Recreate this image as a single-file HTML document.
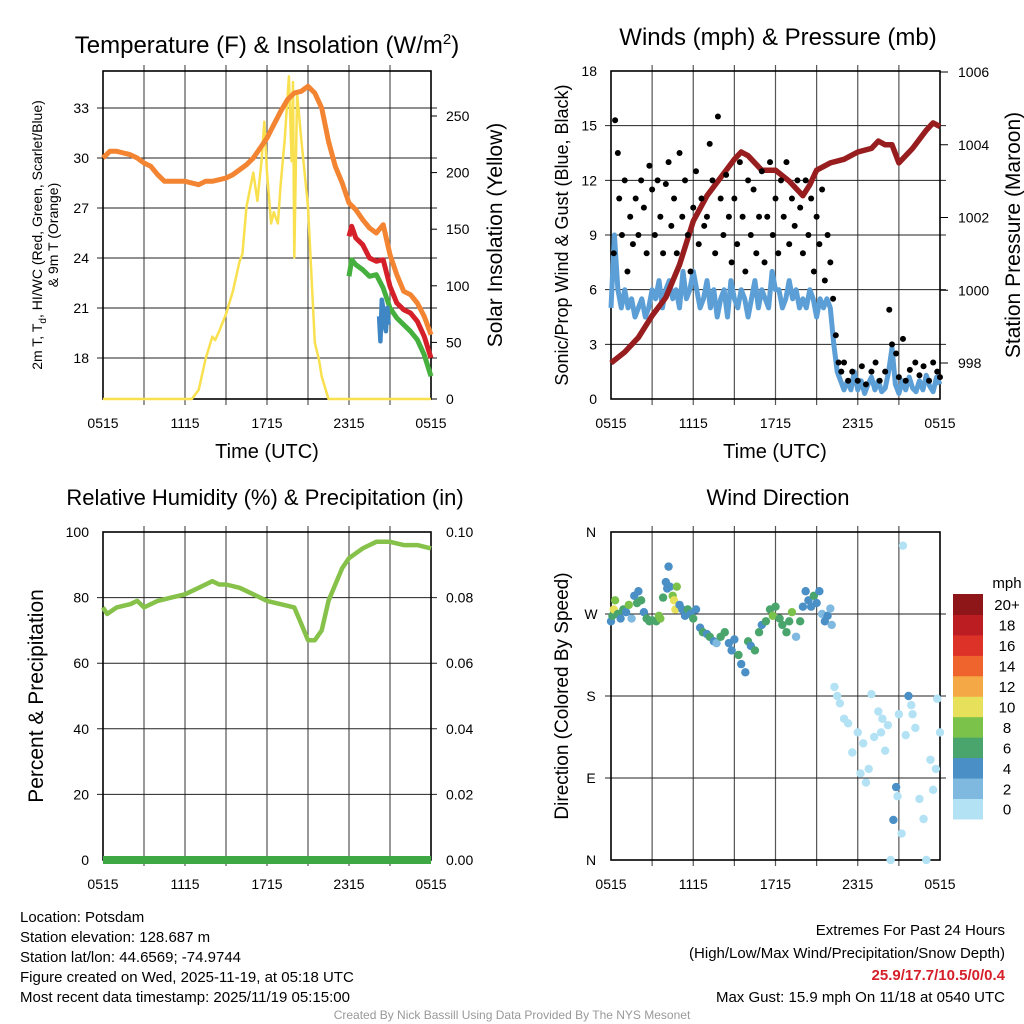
<!DOCTYPE html>
<html><head><meta charset="utf-8"><style>
body{margin:0;background:#fff;}
svg{display:block;font-family:"Liberation Sans",Arial,sans-serif;}
</style></head><body>
<svg id="s" width="1024" height="1024" viewBox="0 0 1024 1024" xmlns="http://www.w3.org/2000/svg">
<g id="root"></g>
</svg>
<script>
// ---------- DATA ----------
const tempT = [0,0.5,1,1.5,2,2.5,3,3.5,4,4.5,5,5.5,6,6.5,7,7.5,8,8.5,9,9.5,10,10.5,11,11.5,12,12.5,13,13.5,14,14.5,15,15.5,16,16.5,17,17.5,18,18.5,19,19.5,20,20.5,21,21.5,22,22.5,23,23.5,24];
const orangeT = [30.0,30.4,30.4,30.3,30.2,30.0,29.7,29.5,29.0,28.6,28.6,28.6,28.6,28.5,28.4,28.6,28.6,28.7,28.8,29.0,29.3,29.6,30.0,30.6,31.2,32.0,32.8,33.5,33.9,34.0,34.3,33.9,33.0,31.0,29.5,28.5,27.3,26.9,26.3,25.8,25.5,26.0,24.2,23.0,22.0,21.8,21.3,20.5,19.4];
const redT_t = [18,18.2,18.5,19,19.5,20,20.5,21,21.5,22,22.5,23,23.5,24];
const redT = [25.3,25.9,25.2,24.8,24.0,23.8,23.9,22.3,21.3,20.9,20.7,20.2,19.3,18.0];
const greenT = [22.9,23.9,23.6,23.3,22.9,23.0,22.2,21.0,20.4,20.0,19.6,19.1,18.2,16.9];
const blueT_t = [20.2,20.3,20.4,20.5,20.6,20.7,20.8,20.9];
const blueT = [20.5,19.0,21.5,21.0,20.0,19.6,21.0,20.0];
const solT_t = [0,6.5,7,7.5,8,8.2,8.5,9,9.5,10,10.2,10.5,11,11.3,11.6,11.8,12,12.3,12.5,12.8,13,13.3,13.6,13.8,13.9,14.0,14.2,14.5,15,15.5,15.8,16,16.5,24];
const solar = [0,0,8,35,55,52,60,75,95,122,128,170,200,175,210,245,200,155,165,155,190,230,285,210,280,125,270,230,170,50,35,20,0,0];

const presT = [0,1,2,3,4,5,6,7,8,9,9.5,10,11,12,13,14,14.5,15,16,17,18,19,19.5,20,20.5,21,22,23,23.5,24];
const pressure = [998.0,998.3,998.7,999.3,999.8,1000.7,1001.9,1002.6,1003.1,1003.6,1003.8,1003.7,1003.3,1003.3,1003.0,1002.6,1002.9,1003.3,1003.5,1003.6,1003.8,1003.9,1004.1,1004.0,1004.0,1003.5,1003.9,1004.4,1004.6,1004.5];
const windVals = [5,9,6,5,6,5,5.5,4.5,5, 5.5,4.5,5,6,5.5,6.5,5,6, 6.5,5.5,6,5,7,5.5,6,7, 6,5,5.5,6.5,5,6,4.5,5.5, 6,4.5,6.5,5.5,5,6,5.5,4.5, 5.5,6.5,5,6,5.5,5,7,6, 6,5,5.5,6.5,5.5,6,5,5.5, 5,6,5.5,4.5,5.5,5,5.5,5, 3,1.5,1,0.5,1,0.5,1.5,0.5, 1,0.3,0.8,1.2,0.5,1,0.4,0.6, 1.5,2.8,0.8,0.3,1,0.5,1.2,0.6, 0.4,1,0.5,1.3,0.7,0.4,1.2,0.8];
const gusts = [[0.2,8],[0.3,15.3],[0.5,13.5],[0.6,11],[0.8,9],[1,12],[1.2,7],[1.4,10],[1.6,8.5],[1.8,11],[2,9],[2.2,12],[2.4,10.5],[2.6,8],[2.8,12.8],[3,11.5],[3.2,9],[3.4,12],[3.6,10],[3.8,8],[4,11.8],[4.2,13],[4.4,9.5],[4.6,11],[4.8,8],[5,13.5],[5.2,10],[5.4,12],[5.6,9],[5.8,7],[6,10.5],[6.2,12.5],[6.4,8.5],[6.6,11],[6.8,9.5],[7,10],[7.2,14],[7.4,12],[7.6,8],[7.8,15.5],[8,11],[8.2,9],[8.4,12.3],[8.6,10],[8.8,7.5],[9,11],[9.2,8.5],[9.4,13],[9.6,10],[9.8,7],[10,12],[10.2,9],[10.4,11.5],[10.6,8],[10.8,10],[11,12.5],[11.2,7.5],[11.4,10],[11.6,13],[11.8,9],[12,11],[12.2,8],[12.4,12],[12.6,10],[12.8,13],[13,8.5],[13.2,11],[13.4,9.5],[13.6,12],[13.8,10.5],[14,8],[14.2,12],[14.4,9],[14.6,11],[14.8,7],[15,10],[15.2,8.5],[15.4,11.5],[15.6,6.5],[15.8,9],[16,7.5],[16.2,5.5],[16.4,3.5],[16.6,2],[16.8,1.5],[17,2],[17.3,1],[17.6,1.5],[18,1],[18.3,1.8],[18.6,0.8],[19,1.5],[19.3,2],[19.6,1],[20,1.5],[20.3,4.9],[20.5,3],[20.8,2.5],[21,1.2],[21.3,3.3],[21.5,1],[21.8,1.6],[22.2,2],[22.5,1.3],[22.8,1.8],[23.2,1],[23.5,2],[23.8,1.5],[24,1.2]];

const rhT = [0,0.3,1,2,2.5,3,4,5,6,7,7.5,8,8.5,9,10,11,12,13,14,14.5,15,15.5,16,16.5,17,17.5,18,19,20,21,22,23,24];
const rh = [77,75,77,78,79,77,79,80,81,83,84,85,84,84,83,81,79,78,77,72,67,67,70,79,84,89,92,95,97,97,96,96,95];
const precip = [0,0];

const dirPts = [[0,262,4],[0.1,268,6],[0.2,275,10],[0.3,285,8],[0.5,270,6],[0.7,265,4],[0.9,275,6],[1.1,272,4],[1.3,280,8],[1.5,265,3],[1.7,290,4],[1.9,282,6],[2,295,4],[2.2,285,6],[2.4,272,4],[2.6,265,6],[2.8,262,6],[3,263,6],[3.3,262,6],[3.5,268,8],[3.6,265,8],[3.8,288,6],[4,305,4],[4.1,298,4],[4.2,322,4],[4.3,300,4],[4.5,290,8],[4.6,285,10],[4.7,275,10],[4.8,300,8],[5,280,4],[5.2,275,4],[5.4,268,4],[5.6,275,6],[5.8,270,4],[6,265,6],[6.2,275,4],[6.5,255,4],[6.7,250,6],[7,248,4],[7.2,245,6],[7.5,240,4],[7.7,238,2],[8,245,6],[8.3,250,6],[8.6,238,4],[8.8,230,4],[9,242,4],[9.3,225,6],[9.5,215,4],[9.8,206,4],[10,240,6],[10.2,235,4],[10.5,230,6],[10.8,250,6],[11,258,4],[11.3,262,6],[11.6,275,6],[11.8,268,8],[12,278,6],[12.3,265,6],[12.5,258,6],[12.8,250,6],[13,262,6],[13.2,272,8],[13.5,245,2],[13.8,262,6],[14,278,4],[14.2,295,4],[14.4,285,4],[14.6,278,4],[14.8,290,6],[15,282,4],[15.2,295,4],[15.4,270,2],[15.6,262,4],[15.8,268,4],[16,276,2],[16.1,258,2],
[16.3,190,1],[16.5,180,1],[16.7,172,1],[17,155,1],[17.3,150,1],[17.6,118,1],[18,140,1],[18.2,95,1],[18.4,128,1],[18.6,85,1],[19,182,1],[19.2,135,1],[19.5,163,1],[19.8,155,1],[20,120,1],[20.2,148,1],[20.4,0,1],[20.6,44,4],[20.8,80,4],[20.9,70,1],[21,160,1],[21.2,29,1],[21.3,345,1],[21.5,137,1],[21.7,180,4],[21.9,170,1],[22.2,145,1],[22.5,67,1],[22.8,45,1],[23,0,1],[23.3,110,1],[23.5,77,1],[23.7,100,1],[23.8,177,1],[24,140,1],[22,160,1],[19.7,140,1],[18.8,100,1]];
const speedColors = ['#b3e2f5','#7fb9e0','#4a8fc6','#4aa56c','#7bc24b','#e6e05a','#f5a946','#ef632d','#dc3228','#bb1d23','#8e1518'];
const cbLabels = ['0','2','4','6','8','10','12','14','16','18','20+'];
const xTickLabels = ['0515','1115','1715','2315','0515'];

// ---------- HELPERS ----------
const NS='http://www.w3.org/2000/svg';
const root=document.getElementById('root');
function el(tag,attrs,parent){const e=document.createElementNS(NS,tag);for(const k in attrs)e.setAttribute(k,attrs[k]);(parent||root).appendChild(e);return e;}
function txt(x,y,s,size,anchor,extra){const e=el('text',Object.assign({x:x,y:y,'font-size':size,'text-anchor':anchor||'middle',fill:'#000'},extra||{}));e.textContent=s;return e;}
function lin(d0,d1,r0,r1){return v=>r0+(v-d0)/(d1-d0)*(r1-r0);}
function pathOf(xs,ys,fx,fy){return xs.map((t,i)=>(i?'L':'M')+fx(t).toFixed(1)+','+fy(ys[i]).toFixed(1)).join('');}

function frame(x0,x1,y0,y1,hLines,fy,name){
  const g=el('g',{});
  
  
  const fx=lin(0,24,x0,x1);
  for(let h=3;h<24;h+=3){const l=el('line',{x1:fx(h),x2:fx(h),y1:y0-6,y2:y1+6,stroke:'#555','stroke-width':1.2},g);
    }
  hLines.forEach(v=>{const l=el('line',{x1:x0-6,x2:x1+6,y1:fy(v),y2:fy(v),stroke:'#222','stroke-width':1},g);
    });
  const r=el('rect',{x:x0,y:y0,width:x1-x0,height:y1-y0,fill:'none',stroke:'#000','stroke-width':1.6},g);
  
  xTickLabels.forEach((s,i)=>{const t=txt(fx(i*6),y1+29,s,14);});
  return fx;
}

// ---------- PANEL 1: Temperature ----------
(function(){
  const x0=103,x1=431,y0=71,y1=399;
  const fy=lin(18,33,358,108);
  const fs=lin(0,250,399,116);
  const fx=frame(x0,x1,y0,y1,[18,21,24,27,30,33],fy,'temperature-panel');
  [18,21,24,27,30,33].forEach(v=>{const t=txt(89,fy(v)+5,String(v),14,'end');});
  [0,50,100,150,200,250].forEach(v=>{const t=txt(446,fs(v)+5,String(v),14,'start');
    const l=el('line',{x1:x1,x2:x1+6,y1:fs(v),y2:fs(v),stroke:'#000'});});
  let p=el('path',{d:pathOf(solT_t,solar,fx,fs),fill:'none',stroke:'#f9e04f','stroke-width':2.5,'stroke-linejoin':'round'});
  
  p=el('path',{d:pathOf(tempT,orangeT,fx,fy),fill:'none',stroke:'#f38432','stroke-width':5,'stroke-linejoin':'round'});
  
  p=el('path',{d:pathOf(redT_t,redT,fx,fy),fill:'none',stroke:'#d5202a','stroke-width':5,'stroke-linejoin':'round'});
  
  p=el('path',{d:pathOf(redT_t,greenT,fx,fy),fill:'none',stroke:'#46b03f','stroke-width':5,'stroke-linejoin':'round'});
  
  p=el('path',{d:pathOf(blueT_t,blueT,fx,fy),fill:'none',stroke:'#3f86c4','stroke-width':4.5,'stroke-linejoin':'round'});
  
  let t=txt(267,53,'',24);t.innerHTML='Temperature (F) &amp; Insolation (W/m<tspan dy="-9" font-size="15">2</tspan><tspan dy="9">)</tspan>';
  
  t=txt(267,458,'Time (UTC)',20);
  t=txt(0,0,'',14,'middle',{transform:'translate(42,235) rotate(-90)'});
  t.innerHTML='2m T, T<tspan dy="4" font-size="10">d</tspan><tspan dy="-4">, HI/WC (Red, Green, Scarlet/Blue)</tspan>';
  
  t=txt(0,0,'& 9m T (Orange)',14,'middle',{transform:'translate(58,235) rotate(-90)'});
  
  t=txt(0,0,'Solar Insolation (Yellow)',21,'middle',{transform:'translate(502,235) rotate(-90)'});
  
})();

// ---------- PANEL 2: Winds ----------
(function(){
  const x0=611,x1=940,y0=71,y1=399;
  const fy=lin(0,18,399,71);
  const fp=lin(998,1006,363,72);
  const fx=frame(x0,x1,y0,y1,[3,6,9,12,15],fy,'winds-panel');
  [0,3,6,9,12,15,18].forEach(v=>{const t=txt(597,fy(v)+5,String(v),14,'end');});
  [998,1000,1002,1004,1006].forEach(v=>{const t=txt(958,fp(v)+5,String(v),14,'start');
    const l=el('line',{x1:x1,x2:x1+8,y1:fp(v),y2:fp(v),stroke:'#000'});});
  const windT=windVals.map((v,i)=>i*0.25);
  let p=el('path',{d:pathOf(windT,windVals,fx,fy),fill:'none',stroke:'#5b9fd6','stroke-width':5,'stroke-linejoin':'round'});
  
  p=el('path',{d:pathOf(presT,pressure,fx,fp),fill:'none',stroke:'#981d1f','stroke-width':5.5,'stroke-linejoin':'round'});
  
  gusts.forEach(g=>{const c=el('circle',{cx:fx(g[0]),cy:fy(g[1]),r:3,fill:'#000'});
    });
  let t=txt(778,45,'Winds (mph) & Pressure (mb)',24);
  t=txt(775,458,'Time (UTC)',20);
  t=txt(0,0,'Sonic/Prop Wind & Gust (Blue, Black)',18,'middle',{transform:'translate(568,235) rotate(-90)'});
  
  t=txt(0,0,'Station Pressure (Maroon)',21,'middle',{transform:'translate(1020,235) rotate(-90)'});
  
})();

// ---------- PANEL 3: RH ----------
(function(){
  const x0=103,x1=431,y0=532,y1=860;
  const fy=lin(0,100,860,532);
  const fq=lin(0,0.1,860,532);
  const fx=frame(x0,x1,y0,y1,[20,40,60,80],fy,'humidity-panel');
  [0,20,40,60,80,100].forEach(v=>{const t=txt(89,fy(v)+5,String(v),14,'end');});
  ['0.00','0.02','0.04','0.06','0.08','0.10'].forEach(s=>{const v=parseFloat(s);const t=txt(446,fq(v)+5,s,14,'start');});
  let p=el('path',{d:pathOf(rhT,rh,fx,fy),fill:'none',stroke:'#86c24a','stroke-width':4.5,'stroke-linejoin':'round'});
  
  p=el('path',{d:pathOf([0,24],precip,fx,fq),fill:'none',stroke:'#3ea845','stroke-width':8});
  
  let t=txt(265,505,'Relative Humidity (%) & Precipitation (in)',22);
  t=txt(0,0,'Percent & Precipitation',21,'middle',{transform:'translate(43,696) rotate(-90)'});
  
})();

// ---------- PANEL 4: Wind Direction ----------
(function(){
  const x0=611,x1=940,y0=532,y1=860;
  const fy=lin(0,360,860,532);
  const fx=frame(x0,x1,y0,y1,[90,180,270],fy,'wind-direction-panel');
  ['N','E','S','W','N'].forEach((s,i)=>{const t=txt(591,fy(i*90)+5,s,14);});
  dirPts.forEach(d=>{const c=el('circle',{cx:fx(d[0]),cy:fy(d[1]),r:4.2,fill:speedColors[Math.min(10,Math.floor(d[2]/2))]});
    });
  let t=txt(778,505,'Wind Direction',22);
  t=txt(0,0,'Direction (Colored By Speed)',19,'middle',{transform:'translate(568,696) rotate(-90)'});
  
  const cbTop=594,cbH=20.45;
  speedColors.forEach((c,i)=>{const r=el('rect',{x:953,y:cbTop+(10-i)*cbH,width:30,height:cbH+0.5,fill:c});
    
    const t=txt(1007,cbTop+(10-i)*cbH+cbH/2+6,cbLabels[i],15);});
  t=txt(1007,588,'mph',15);
})();

// ---------- FOOTER ----------
(function(){
  const left=['Location: Potsdam','Station elevation: 128.687 m','Station lat/lon: 44.6569; -74.9744','Figure created on Wed, 2025-11-19, at 05:18 UTC','Most recent data timestamp: 2025/11/19 05:15:00'];
  left.forEach((s,i)=>{const t=txt(20,922+i*20,s,15,'start');});
  let t=txt(1005,935,'Extremes For Past 24 Hours',15,'end');
  t=txt(1005,958,'(High/Low/Max Wind/Precipitation/Snow Depth)',15,'end');
  t=txt(1005,980,'25.9/17.7/10.5/0/0.4',15,'end',{fill:'#d5202a','font-weight':'bold'});
  t=txt(1005,1002,'Max Gust: 15.9 mph On 11/18 at 0540 UTC',15,'end');
  t=txt(512,1019,'Created By Nick Bassill Using Data Provided By The NYS Mesonet',12,'middle',{fill:'#999'});
})();
</script>
</body></html>
